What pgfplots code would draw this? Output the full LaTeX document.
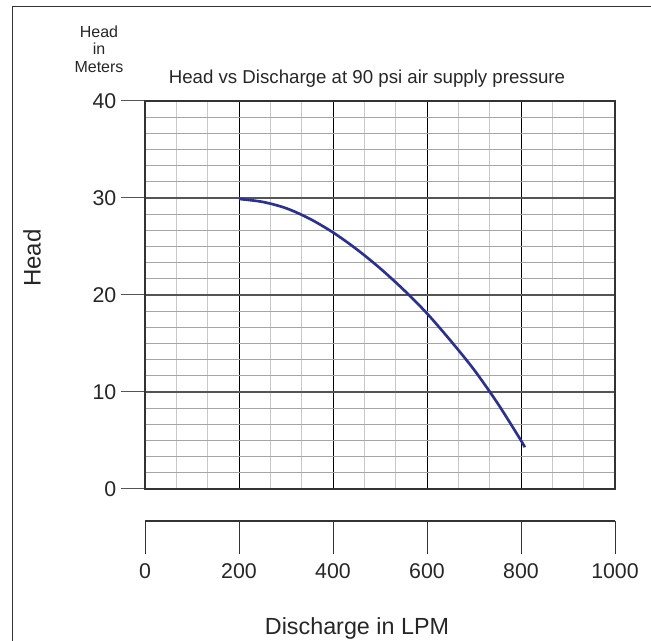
\documentclass[border=0pt]{standalone}
\usepackage{pgfplots}
\pgfplotsset{compat=1.18}
\usepackage{fontspec}
\setmainfont{Liberation Sans}
\definecolor{curveblue}{RGB}{43,49,146}
\definecolor{framegray}{RGB}{51,51,51}
\definecolor{minorv}{RGB}{200,200,200}
\definecolor{minorh}{RGB}{165,165,165}
\definecolor{majorh}{RGB}{85,85,85}
\begin{document}
\begin{tikzpicture}
\path[use as bounding box] (0,0) rectangle (488.25pt,480.75pt);
% outer frame (top and left only)
\draw[framegray, line width=0.75pt] (9pt,0pt) -- (9pt,475.5pt) -- (488.25pt,475.5pt);
\begin{axis}[
  name=main,
  at={(108.75pt,114pt)}, anchor=south west,
  scale only axis, width=352.5pt, height=291pt,
  xmin=0, xmax=1000, ymin=0, ymax=40,
  xtick={0,200,...,1000}, xticklabels={},
  minor xtick={66.67,133.33,266.67,333.33,466.67,533.33,666.67,733.33,866.67,933.33},
  ytick={0,10,...,40},
  minor ytick={1.667,3.333,5,6.667,8.333,11.667,13.333,15,16.667,18.333,21.667,23.333,25,26.667,28.333,31.667,33.333,35,36.667,38.333},
  xtick style={draw=none},
  minor tick style={draw=none},
  ytick style={majorh, line width=0.75pt},
  tick align=outside,
  major tick length=18pt,
  ytick pos=left,
  grid=both,
  major x grid style={black, line width=0.7pt},
  major y grid style={majorh, line width=0.8pt},
  minor x grid style={minorv, line width=0.9pt},
  minor y grid style={minorh, line width=0.8pt},
  axis line style={framegray, line width=0.8pt},
  /pgf/number format/assume math mode=true,
  yticklabel style={font=\fontsize{16}{19}\selectfont, text=black!85},
]
\addplot[curveblue, line width=2pt, smooth] coordinates {
  (200,29.9) (250,29.6) (300,28.95) (350,27.87) (400,26.45) (450,24.73)
  (500,22.76) (550,20.55) (600,18.1) (650,15.3) (700,12.3) (750,8.85)
  (800,5.0) (808,4.3)
};
\end{axis}
\begin{axis}[
  at={(108.75pt,90pt)}, anchor=south west,
  scale only axis, width=352.5pt, height=10pt,
  xmin=0, xmax=1000, ymin=0, ymax=1,
  hide y axis,
  axis x line*=bottom,
  x axis line style={-, framegray, line width=0.8pt},
  xtick={0,200,...,1000},
  xtick style={framegray, line width=0.75pt},
  tick align=outside,
  major tick length=24.75pt,
  /pgf/number format/assume math mode=true,
  /pgf/number format/1000 sep={},
  xticklabel style={font=\fontsize{16}{19}\selectfont, text=black!85, yshift=-3.5pt},
]
\end{axis}
\node[align=center, font=\fontsize{12}{13.2}\selectfont, text=black!85] at (74.25pt,444pt) {Head\\in\\Meters};
\node[anchor=base, font=\fontsize{14}{16}\selectfont, text=black!85] at (275.25pt,418.3pt) {Head vs Discharge at 90 psi air supply pressure};
\node[rotate=90, font=\fontsize{18}{20}\selectfont, text=black!85] at (24pt,287.25pt) {Head};
\node[anchor=base, font=\fontsize{17.5}{20}\selectfont, text=black!85] at (267.75pt,4.5pt) {Discharge in LPM};
\end{tikzpicture}
\end{document}
